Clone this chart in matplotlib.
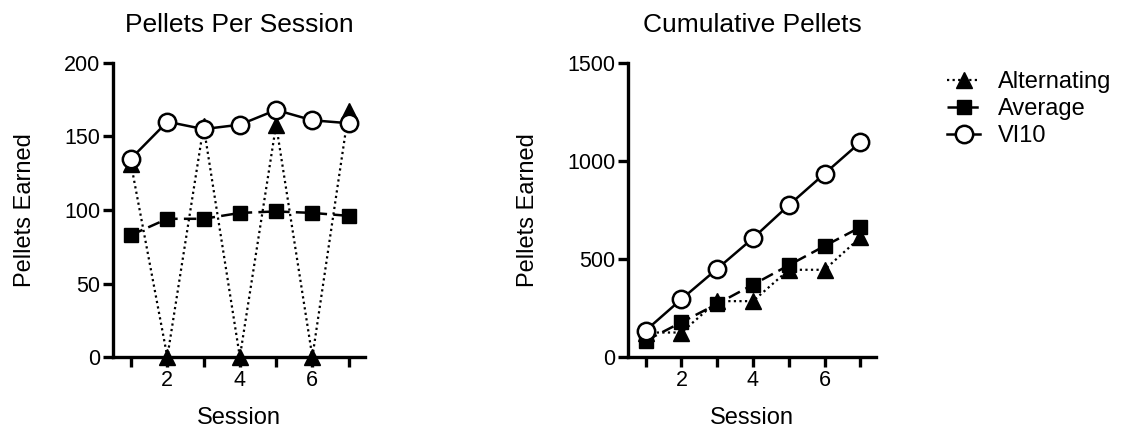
import numpy as np
import matplotlib
matplotlib.use('Agg')
import matplotlib.pyplot as plt

plt.rcParams['font.family'] = ['Liberation Sans', 'DejaVu Sans']

# 数据
sessions = [1, 2, 3, 4, 5, 6, 7]
alternating = [131, 0, 157, 0, 158, 0, 167]
average = [83, 94, 94, 98, 99, 98, 96]
vi10 = [135, 160, 155, 158, 168, 161, 159]

cum_alternating = [125, 125, 285, 285, 445, 445, 610]
cum_average = [83, 177, 271, 369, 468, 566, 662]
cum_vi10 = [135, 295, 450, 606, 774, 935, 1095]

series_names = ['Alternating', 'Average', 'VI10']
xtick_labels = ['', '2', '', '4', '', '6', '']

fig = plt.figure(figsize=(11.25, 4.37), dpi=100)
ax1 = fig.add_axes([0.1004, 0.183, 0.224, 0.673])
ax2 = fig.add_axes([0.558, 0.183, 0.221, 0.673])


def draw(ax, a, b, c):
    h1, = ax.plot(sessions, a, color='black', linestyle=(0, (1, 1.5)), linewidth=1.6,
                  marker='^', markersize=12, clip_on=False, zorder=3)
    h2, = ax.plot(sessions, b, color='black', linestyle=(0, (5, 2.5)), linewidth=1.8,
                  marker='s', markersize=10.5, clip_on=False, zorder=3)
    h3, = ax.plot(sessions, c, color='black', linestyle='-', linewidth=1.8,
                  marker='o', markersize=12.5, markerfacecolor='white',
                  markeredgewidth=1.8, clip_on=False, zorder=4)
    return [h1, h2, h3]


handles = draw(ax1, alternating, average, vi10)
draw(ax2, cum_alternating, cum_average, cum_vi10)

for ax, top, step, title in [(ax1, 200, 50, 'Pellets Per Session'),
                              (ax2, 1500, 500, 'Cumulative Pellets')]:
    ax.set_xlim(0.5, 7.45)
    ax.set_ylim(0, top)
    ax.set_yticks(np.arange(0, top + 1, step))
    ax.set_xticks(sessions)
    ax.set_xticklabels(xtick_labels)
    ax.spines['top'].set_visible(False)
    ax.spines['right'].set_visible(False)
    ax.spines['left'].set_linewidth(2.4)
    ax.spines['bottom'].set_linewidth(2.4)
    ax.tick_params(direction='out', length=7, width=2.4, labelsize=15.5, pad=2)
    ax.set_xlabel('Session', fontsize=17, labelpad=12)
    ax.set_ylabel('Pellets Earned', fontsize=17, labelpad=20)
    ax.set_title(title, fontsize=19, pad=22)

fig.legend(handles, series_names, loc='upper left', bbox_to_anchor=(0.842, 0.838),
           frameon=False, fontsize=17, handlelength=1.4, handletextpad=0.75,
           labelspacing=0.22, borderpad=0, borderaxespad=0)

plt.savefig('out.png', dpi=100)
